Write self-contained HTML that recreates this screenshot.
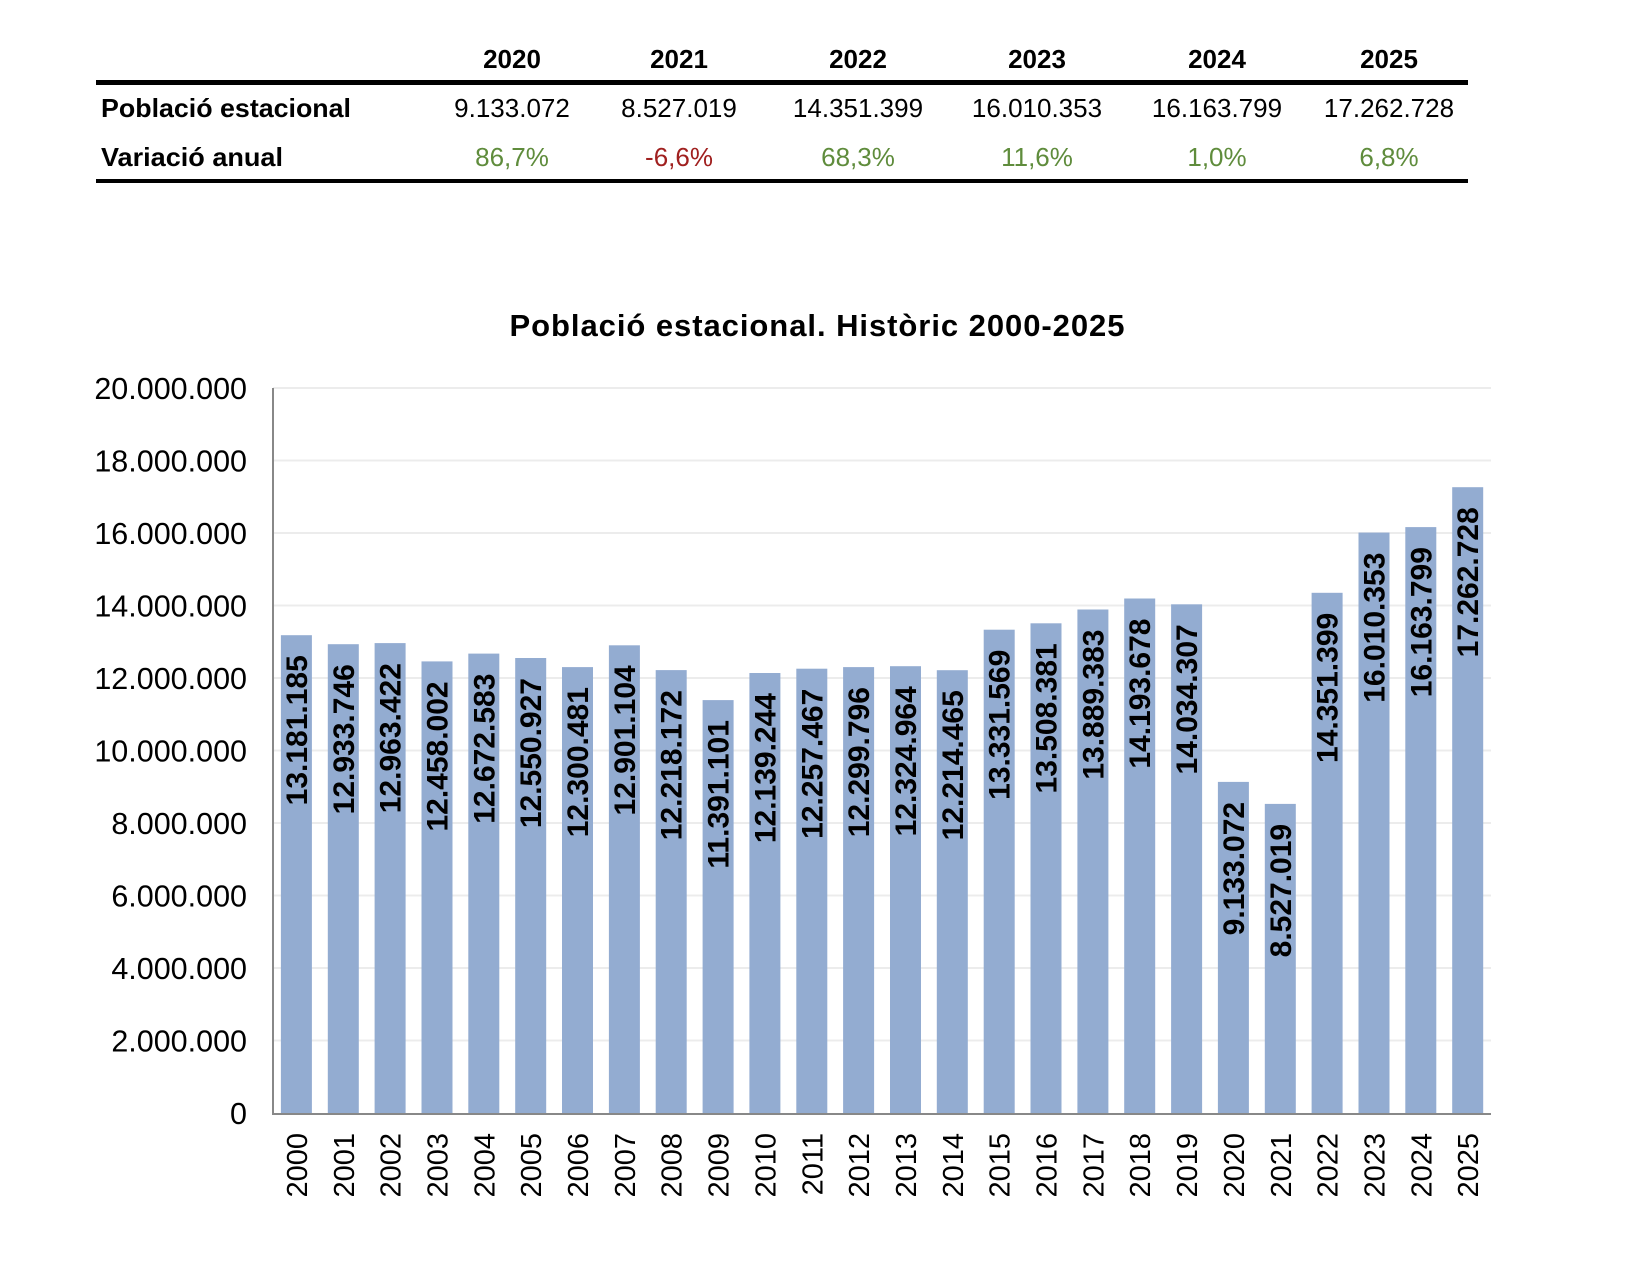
<!DOCTYPE html>
<html><head><meta charset="utf-8"><style>html,body{margin:0;padding:0;background:#fff}svg{display:block}</style></head>
<body>
<svg width="1648" height="1284" viewBox="0 0 1648 1284" xmlns="http://www.w3.org/2000/svg" font-family="Liberation Sans, Arial, sans-serif">
<g font-size="26" text-anchor="middle">
<g font-weight="bold">
<text x="512" y="68">2020</text><text x="679" y="68">2021</text><text x="858" y="68">2022</text><text x="1037" y="68">2023</text><text x="1217" y="68">2024</text><text x="1389" y="68">2025</text>
<text x="101" y="117" text-anchor="start" textLength="250" lengthAdjust="spacingAndGlyphs">Població estacional</text>
<text x="101" y="166" text-anchor="start" textLength="182" lengthAdjust="spacingAndGlyphs">Variació anual</text>
</g>
<rect x="96" y="80" width="1372" height="5" fill="#000"/>
<rect x="96" y="179" width="1372" height="4" fill="#000"/>
<text x="512" y="117">9.133.072</text><text x="679" y="117">8.527.019</text><text x="858" y="117">14.351.399</text><text x="1037" y="117">16.010.353</text><text x="1217" y="117">16.163.799</text><text x="1389" y="117">17.262.728</text>
<g fill="#5f8c3c"><text x="512" y="166">86,7%</text><text x="858" y="166">68,3%</text><text x="1037" y="166">11,6%</text><text x="1217" y="166">1,0%</text><text x="1389" y="166">6,8%</text></g>
<text x="679" y="166" fill="#a0201f">-6,6%</text>
</g>
<text x="817" y="336" font-size="31" font-weight="bold" text-anchor="middle" textLength="615" lengthAdjust="spacing">Població estacional. Històric  2000-2025</text>

<g stroke="#ececec" stroke-width="2">
<line x1="273" x2="1491" y1="388" y2="388"/><line x1="273" x2="1491" y1="460.5" y2="460.5"/><line x1="273" x2="1491" y1="533" y2="533"/><line x1="273" x2="1491" y1="605.5" y2="605.5"/><line x1="273" x2="1491" y1="678" y2="678"/><line x1="273" x2="1491" y1="750.5" y2="750.5"/><line x1="273" x2="1491" y1="823" y2="823"/><line x1="273" x2="1491" y1="895.5" y2="895.5"/><line x1="273" x2="1491" y1="968" y2="968"/><line x1="273" x2="1491" y1="1040.5" y2="1040.5"/>
</g>
<g font-size="30.5" text-anchor="end">
<text x="247" y="399">20.000.000</text><text x="247" y="471.5">18.000.000</text><text x="247" y="544">16.000.000</text><text x="247" y="616.5">14.000.000</text><text x="247" y="689">12.000.000</text><text x="247" y="761.5">10.000.000</text><text x="247" y="834">8.000.000</text><text x="247" y="906.5">6.000.000</text><text x="247" y="979">4.000.000</text><text x="247" y="1051.5">2.000.000</text><text x="247" y="1124">0</text>
</g>

<g fill="#93acd1">
<rect x="280.9" y="635.2" width="31" height="477.8"/>
<rect x="327.8" y="644.2" width="31" height="468.8"/>
<rect x="374.6" y="643.1" width="31" height="469.9"/>
<rect x="421.5" y="661.4" width="31" height="451.6"/>
<rect x="468.3" y="653.6" width="31" height="459.4"/>
<rect x="515.2" y="658.0" width="31" height="455.0"/>
<rect x="562.0" y="667.1" width="31" height="445.9"/>
<rect x="608.9" y="645.3" width="31" height="467.7"/>
<rect x="655.7" y="670.1" width="31" height="442.9"/>
<rect x="702.6" y="700.1" width="31" height="412.9"/>
<rect x="749.4" y="673.0" width="31" height="440.0"/>
<rect x="796.3" y="668.7" width="31" height="444.3"/>
<rect x="843.1" y="667.1" width="31" height="445.9"/>
<rect x="890.0" y="666.2" width="31" height="446.8"/>
<rect x="936.8" y="670.2" width="31" height="442.8"/>
<rect x="983.7" y="629.7" width="31" height="483.3"/>
<rect x="1030.5" y="623.3" width="31" height="489.7"/>
<rect x="1077.4" y="609.5" width="31" height="503.5"/>
<rect x="1124.2" y="598.5" width="31" height="514.5"/>
<rect x="1171.1" y="604.3" width="31" height="508.7"/>
<rect x="1217.9" y="781.9" width="31" height="331.1"/>
<rect x="1264.8" y="803.9" width="31" height="309.1"/>
<rect x="1311.6" y="592.8" width="31" height="520.2"/>
<rect x="1358.5" y="532.6" width="31" height="580.4"/>
<rect x="1405.3" y="527.1" width="31" height="585.9"/>
<rect x="1452.2" y="487.2" width="31" height="625.8"/>
</g>

<g font-size="30" font-weight="bold" text-anchor="end">
<text transform="translate(306.9,655.2) rotate(-90)">13.181.185</text>
<text transform="translate(353.8,664.2) rotate(-90)">12.933.746</text>
<text transform="translate(400.6,663.1) rotate(-90)">12.963.422</text>
<text transform="translate(447.5,681.4) rotate(-90)">12.458.002</text>
<text transform="translate(494.3,673.6) rotate(-90)">12.672.583</text>
<text transform="translate(541.2,678.0) rotate(-90)">12.550.927</text>
<text transform="translate(588.0,687.1) rotate(-90)">12.300.481</text>
<text transform="translate(634.9,665.3) rotate(-90)">12.901.104</text>
<text transform="translate(681.7,690.1) rotate(-90)">12.218.172</text>
<text transform="translate(728.6,720.1) rotate(-90)">11.391.101</text>
<text transform="translate(775.4,693.0) rotate(-90)">12.139.244</text>
<text transform="translate(822.3,688.7) rotate(-90)">12.257.467</text>
<text transform="translate(869.1,687.1) rotate(-90)">12.299.796</text>
<text transform="translate(916.0,686.2) rotate(-90)">12.324.964</text>
<text transform="translate(962.8,690.2) rotate(-90)">12.214.465</text>
<text transform="translate(1009.7,649.7) rotate(-90)">13.331.569</text>
<text transform="translate(1056.5,643.3) rotate(-90)">13.508.381</text>
<text transform="translate(1103.4,629.5) rotate(-90)">13.889.383</text>
<text transform="translate(1150.2,618.5) rotate(-90)">14.193.678</text>
<text transform="translate(1197.1,624.3) rotate(-90)">14.034.307</text>
<text transform="translate(1243.9,801.9) rotate(-90)">9.133.072</text>
<text transform="translate(1290.8,823.9) rotate(-90)">8.527.019</text>
<text transform="translate(1337.6,612.8) rotate(-90)">14.351.399</text>
<text transform="translate(1384.5,552.6) rotate(-90)">16.010.353</text>
<text transform="translate(1431.3,547.1) rotate(-90)">16.163.799</text>
<text transform="translate(1478.2,507.2) rotate(-90)">17.262.728</text>
</g>

<g font-size="29" text-anchor="end">
<text transform="translate(306.9,1133) rotate(-90)">2000</text>
<text transform="translate(353.8,1133) rotate(-90)">2001</text>
<text transform="translate(400.6,1133) rotate(-90)">2002</text>
<text transform="translate(447.5,1133) rotate(-90)">2003</text>
<text transform="translate(494.3,1133) rotate(-90)">2004</text>
<text transform="translate(541.2,1133) rotate(-90)">2005</text>
<text transform="translate(588.0,1133) rotate(-90)">2006</text>
<text transform="translate(634.9,1133) rotate(-90)">2007</text>
<text transform="translate(681.7,1133) rotate(-90)">2008</text>
<text transform="translate(728.6,1133) rotate(-90)">2009</text>
<text transform="translate(775.4,1133) rotate(-90)">2010</text>
<text transform="translate(822.3,1133) rotate(-90)">2011</text>
<text transform="translate(869.1,1133) rotate(-90)">2012</text>
<text transform="translate(916.0,1133) rotate(-90)">2013</text>
<text transform="translate(962.8,1133) rotate(-90)">2014</text>
<text transform="translate(1009.7,1133) rotate(-90)">2015</text>
<text transform="translate(1056.5,1133) rotate(-90)">2016</text>
<text transform="translate(1103.4,1133) rotate(-90)">2017</text>
<text transform="translate(1150.2,1133) rotate(-90)">2018</text>
<text transform="translate(1197.1,1133) rotate(-90)">2019</text>
<text transform="translate(1243.9,1133) rotate(-90)">2020</text>
<text transform="translate(1290.8,1133) rotate(-90)">2021</text>
<text transform="translate(1337.6,1133) rotate(-90)">2022</text>
<text transform="translate(1384.5,1133) rotate(-90)">2023</text>
<text transform="translate(1431.3,1133) rotate(-90)">2024</text>
<text transform="translate(1478.2,1133) rotate(-90)">2025</text>
</g>

<line x1="273" x2="273" y1="388" y2="1114" stroke="#888" stroke-width="2"/>
<line x1="272" x2="1491" y1="1114" y2="1114" stroke="#888" stroke-width="2"/>
</svg>
</body></html>
